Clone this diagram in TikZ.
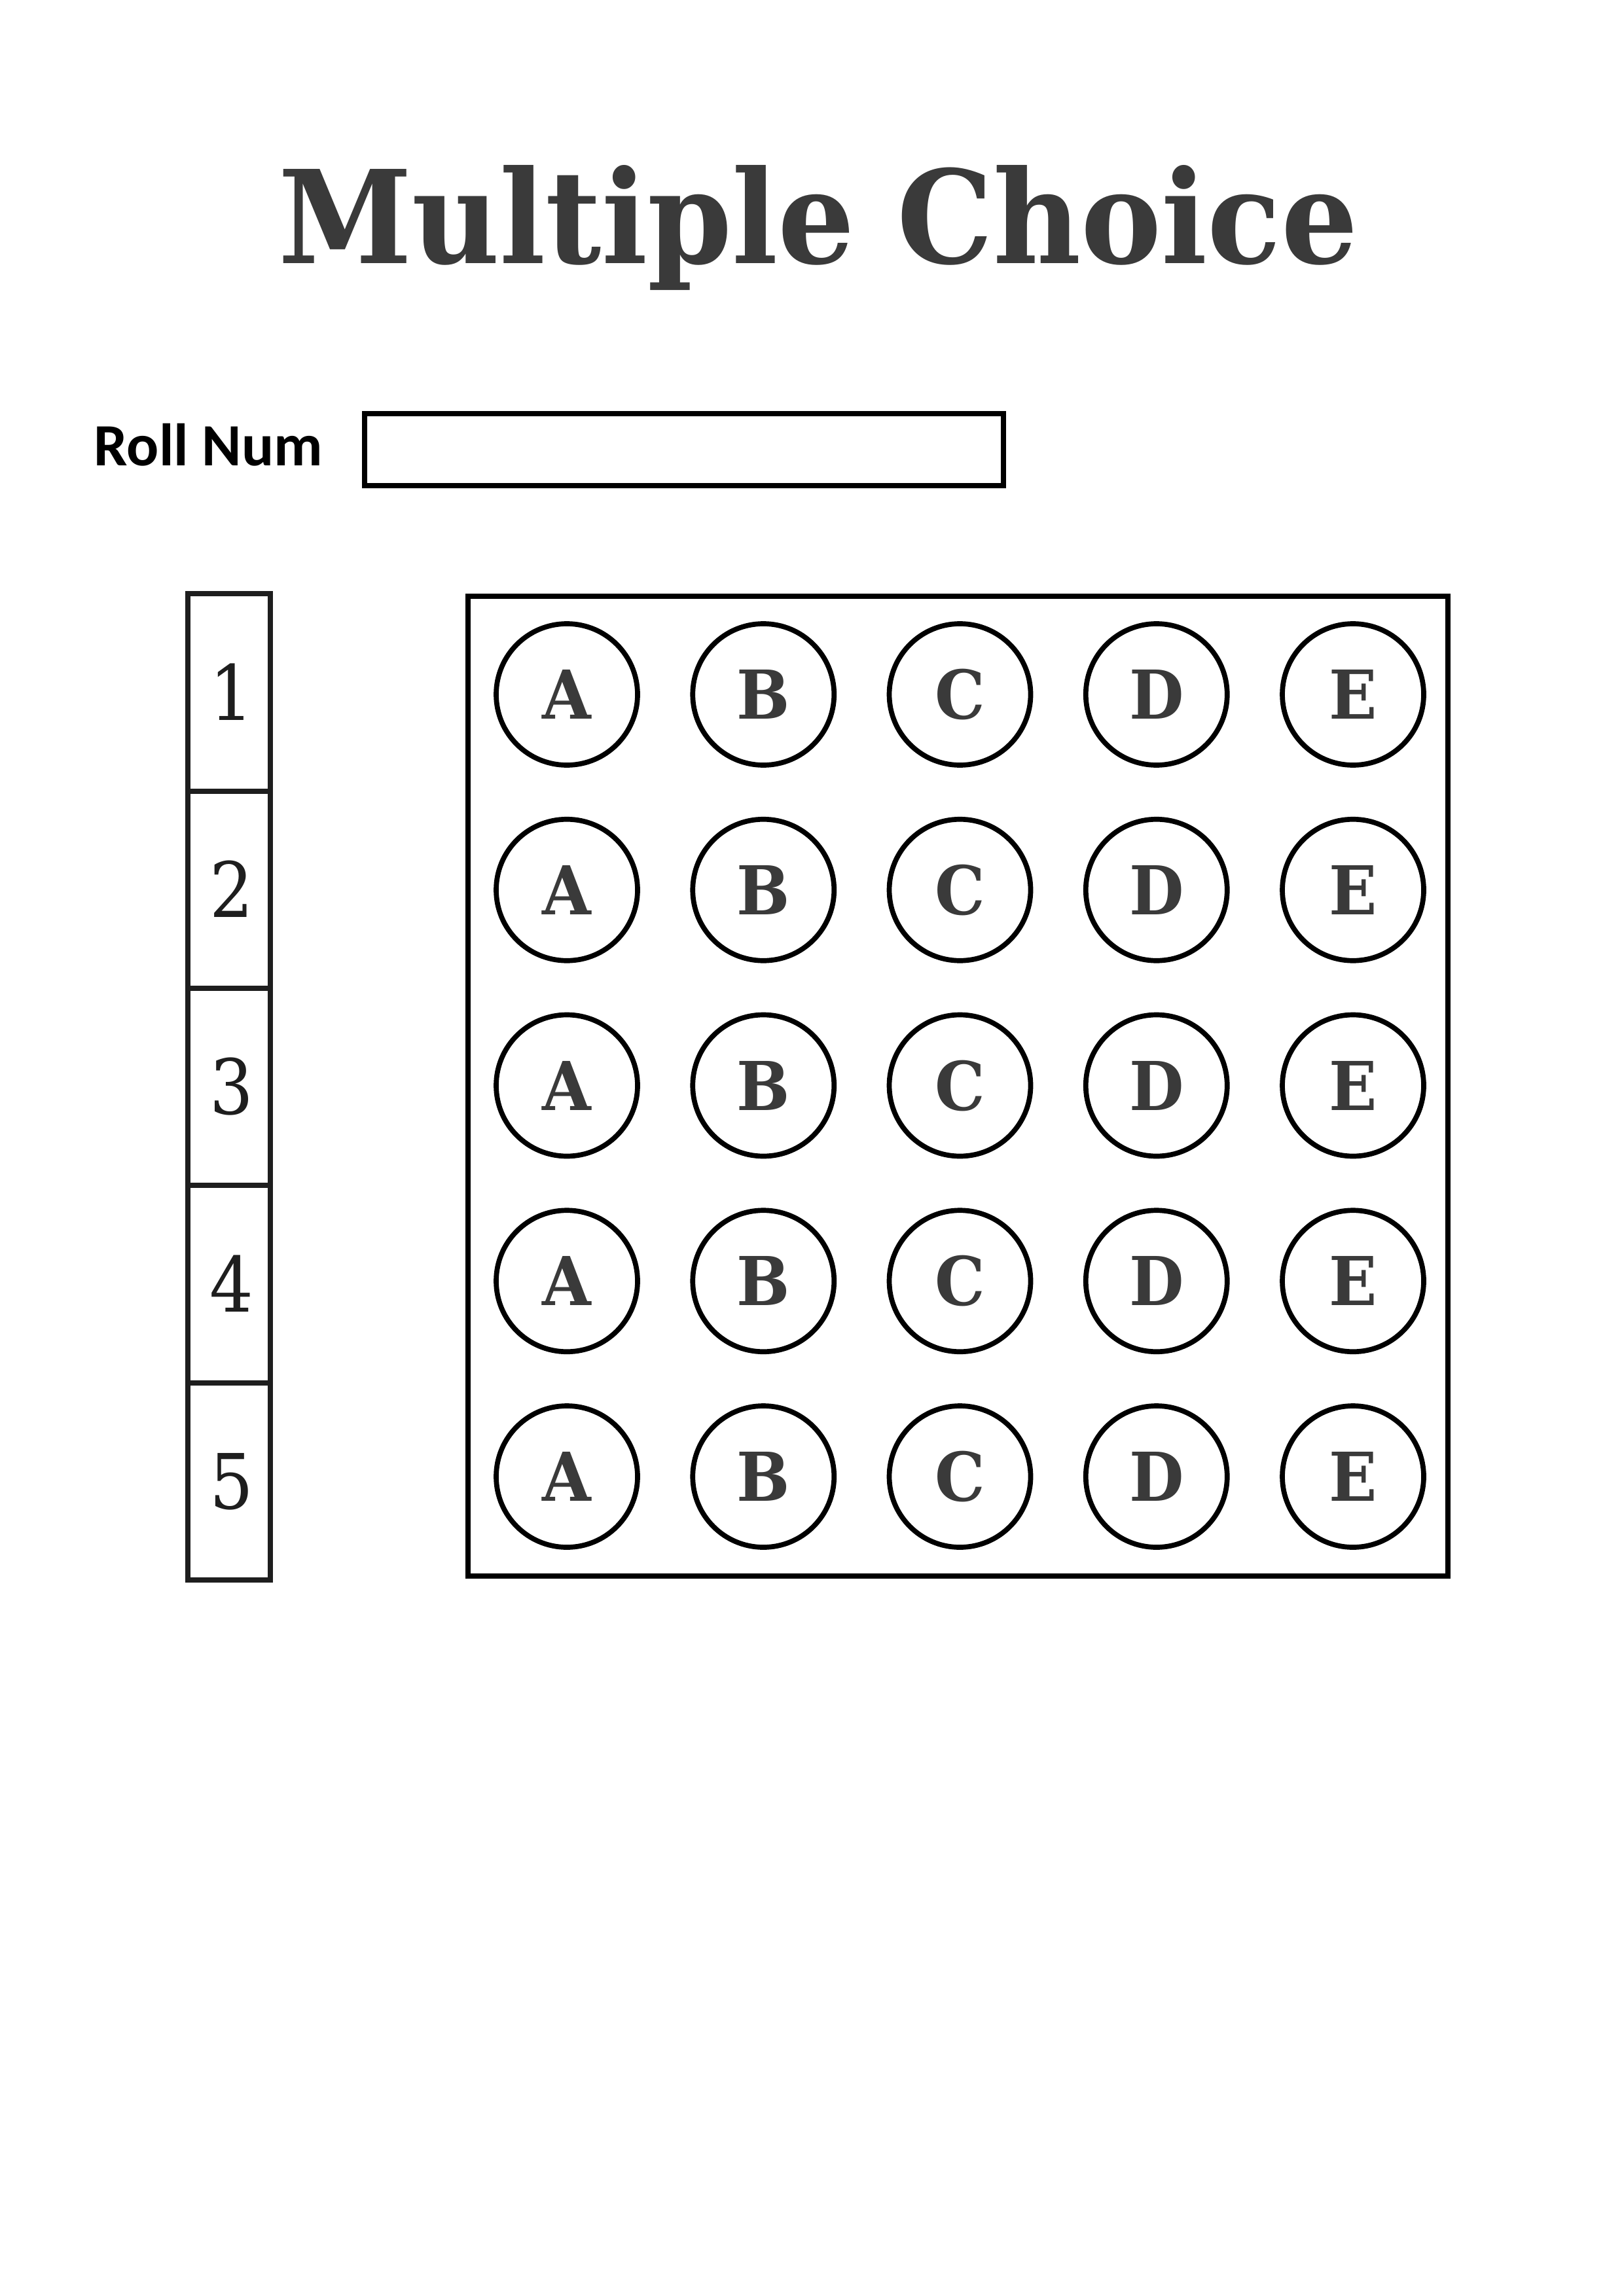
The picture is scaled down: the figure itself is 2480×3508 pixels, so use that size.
\documentclass[tikz,border=0pt]{standalone}
\usepackage{fontspec}
\newfontfamily\titlefont[FakeStretch=0.935]{DejaVu Serif}
\newfontfamily\digitfont[FakeStretch=0.9]{DejaVu Serif}
\newfontfamily\labelfont{Carlito}
\definecolor{inkgray}{HTML}{3A3A3A}
\definecolor{inkdark}{HTML}{1E1E1E}
\begin{document}
\begin{tikzpicture}[x=0.24pt,y=-0.24pt,
  framebox/.style={draw=black,line width=1.92pt},
  colbox/.style={draw=inkdark,line width=1.92pt},
  bubble/.style={draw=black,line width=1.85pt,circle,minimum size=216*0.24pt,inner sep=0pt},
  letter/.style={anchor=base,inner sep=0pt,text=inkgray,font=\titlefont\bfseries\fontsize{24.7pt}{26pt}\selectfont},
  digit/.style={anchor=base,inner sep=0pt,text=inkdark,font=\digitfont\fontsize{28pt}{30pt}\selectfont}]
\useasboundingbox (0,0) rectangle (2480,3508);
% title
\node[anchor=base,inner sep=0pt,text=inkgray,font=\titlefont\bfseries\fontsize{47.4pt}{50pt}\selectfont] (title) at (1250,403) {Multiple Choice};
% roll number
\node[anchor=base west,inner sep=0pt,font=\labelfont\bfseries\fontsize{22pt}{24pt}\selectfont] (rolllabel) at (143,712) {Roll Num};
\draw[framebox] (557,632) rectangle (1533,742);
\node[inner sep=0pt] (rollbox) at (1045,687) {};
% number column
\draw[colbox] (287,907.5) rectangle (412.5,2414);
\foreach \k in {1,...,4}{
  \draw[colbox] (287,{907.5+301.3*\k}) -- (412.5,{907.5+301.3*\k});
}
\foreach \k in {1,...,5}{
  \node[digit] (num\k) at (354,{907.5+301.3*(\k-0.5)+42}) {\k};
}
% answer grid
\draw[framebox] (715,911) rectangle (2212,2408);
\foreach \r in {1,...,5}{
  \foreach \l [count=\c] in {A,B,C,D,E}{
    \node[bubble] (b\r\l) at ({866+300.25*(\c-1)},{1061+298.75*(\r-1)}) {};
    \node[letter] (t\r\l) at ({866+300.25*(\c-1)},{1061+298.75*(\r-1)+37.5}) {\l};
  }
}
\end{tikzpicture}
\end{document}
